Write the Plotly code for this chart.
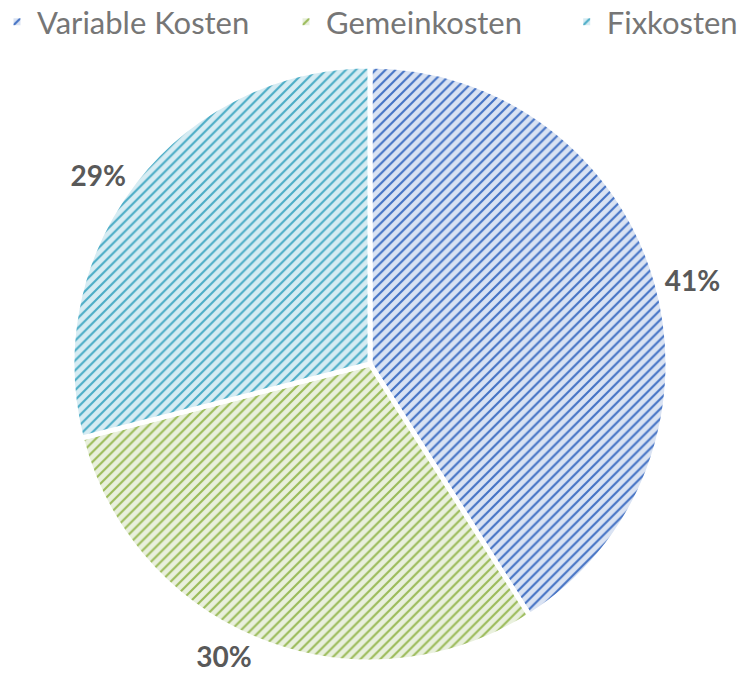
import plotly.graph_objects as go

categories = ["Variable Kosten", "Gemeinkosten", "Fixkosten"]
values = [41, 30, 29]
fg_colors = ["#4472C4", "#9BBB59", "#4BACC6"]
bg_colors = ["#DAE3F3", "#E9F0DD", "#D6ECF3"]
legend_pad = [4, 5, 0]  # extra spacing after each legend entry

legend_labels = [c + "\u00a0" * p for c, p in zip(categories, legend_pad)]

fig = go.Figure(go.Pie(
    labels=legend_labels,
    values=values,
    customdata=categories,
    sort=False,
    direction="clockwise",
    rotation=0,
    textinfo="percent",
    texttemplate="%{percent:.0%}",
    textposition="outside",
    textfont=dict(family="Lato", size=28, color="#595959", weight="bold"),
    marker=dict(
        colors=bg_colors,
        line=dict(color="white", width=5),
        pattern=dict(shape="/", fgcolor=fg_colors, bgcolor=bg_colors, size=7, solidity=0.3, fillmode="replace"),
    ),
    domain=dict(x=[0, 740 / 753], y=[0, 1]),
    hovertemplate="%{customdata}: %{percent}<extra></extra>",
))

fig.update_layout(
    width=753, height=675,
    margin=dict(l=0, r=0, t=66, b=13, autoexpand=False),
    paper_bgcolor="white",
    showlegend=True,
    legend=dict(
        orientation="h", x=-0.004, y=1.119, xanchor="left", yanchor="top",
        bgcolor="rgba(0,0,0,0)",
        font=dict(family="Lato", size=31, color="#767676"),
        itemwidth=30,
    ),
)

fig.write_html("out.html", config={"displayModeBar": False},
               post_script="document.body.style.margin='0';")
